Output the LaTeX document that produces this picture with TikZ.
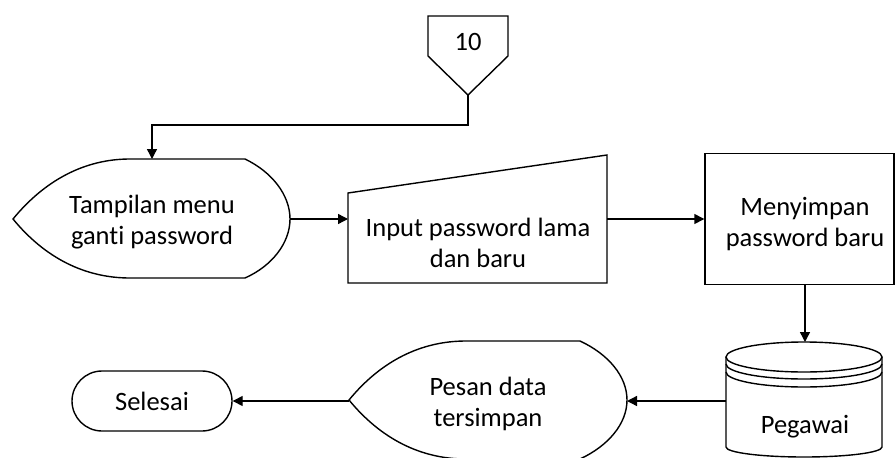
\documentclass[tikz,border=0pt]{standalone}
\usepackage{fontspec}
\setmainfont[Ligatures=NoCommon]{Carlito}
\usetikzlibrary{arrows.meta}
\tikzset{
  teks/.style={align=center, font=\fontsize{26.5}{31}\selectfont},
  garis/.style={line width=1.4pt},
  panah/.style={garis, -{Triangle[length=10pt, width=10pt]}}
}
\begin{document}
\begin{tikzpicture}[x=1pt, y=-1pt]
	\useasboundingbox (0,0) rectangle (895,458);
	% Off-page connector
	\draw[garis] (428,16) -- (508,16) -- (508,56) -- (468,95) -- (428,56) -- cycle;
	\node[teks] (sambung) at (468,42) {10};
	\coordinate (sambung-s) at (468,95);
	% Display menu
	\draw[garis] (13,219) .. controls (45,180) and (85,159) .. (130,159) -- (245,159)
		.. controls (272,172) and (290,195) .. (290,219)
		.. controls (290,243) and (272,266) .. (245,278) -- (130,278)
		.. controls (85,278) and (45,258) .. cycle;
	\node[teks] (menu) at (152,222) {Tampilan menu\\ganti password};
	\coordinate (menu-n) at (152,159);
	\coordinate (menu-e) at (290,219);
	% Manual input
	\draw[garis] (348,193) -- (607,155) -- (607,283) -- (348,283) -- cycle;
	\node[teks] (input) at (478,243) {Input password lama\\dan baru};
	\coordinate (input-w) at (348,219);
	\coordinate (input-e) at (607,219);
	% Process
	\node[teks, garis, draw, minimum width=189pt, minimum height=131pt] (simpan) at (799.5,219) {};
	\node[teks] (simpan-teks) at (805,224) {Menyimpan\\password baru};
	% Database
	\draw[garis] (804,357) ellipse (78 and 15);
	\draw[garis] (726,364) arc[start angle=180, end angle=0, x radius=78, y radius=15];
	\draw[garis] (726,372) arc[start angle=180, end angle=0, x radius=78, y radius=15];
	\draw[garis] (726,357) -- (726,447) arc[start angle=180, end angle=0, x radius=78, y radius=10] -- (882,357);
	\node[teks] (pegawai) at (805,427) {Pegawai};
	\coordinate (pegawai-n) at (805,342);
	\coordinate (pegawai-w) at (726,401);
	% Display pesan
	\draw[garis] (349,400) .. controls (381,361) and (421,341) .. (466,341) -- (580,341)
		.. controls (608,354) and (627,376) .. (627,400)
		.. controls (627,424) and (608,446) .. (580,459) -- (466,459)
		.. controls (421,459) and (381,439) .. cycle;
	\node[teks] (pesan) at (488,404) {Pesan data\\tersimpan};
	\coordinate (pesan-e) at (627,401);
	\coordinate (pesan-w) at (349,401);
	% Terminator
	\node[teks, garis, draw, rounded corners=30pt, minimum width=160pt, minimum height=60pt] (selesai) at (152,401) {Selesai};
	% Arrows
	\draw[panah] (sambung-s) -- ++(0,30) -| (menu-n);
	\draw[panah] (menu-e) -- (input-w);
	\draw[panah] (input-e) -- (simpan.west);
	\draw[panah] (simpan.south -| pegawai-n) -- (pegawai-n);
	\draw[panah] (pegawai-w) -- (pesan-e);
	\draw[panah] (pesan-w) -- (selesai.east);
\end{tikzpicture}
\end{document}
